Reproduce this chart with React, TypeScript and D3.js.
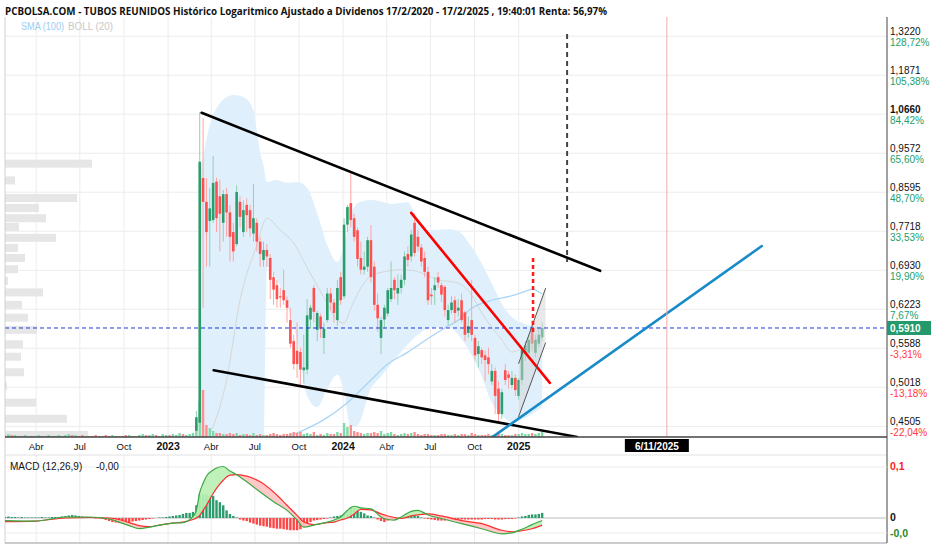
import React from "react";
import * as d3 from "d3";

// ---------- DATA ----------
const candleStart = "2023-02-27"; // weekly candles
const candleOpen = [0.445,0.455,0.894,0.837,0.794,0.796,0.885,0.85,0.79,0.855,0.813,0.77,0.745,0.837,0.77,0.83,0.818,0.767,0.79,0.75,0.713,0.733,0.717,0.68,0.665,0.645,0.656,0.638,0.604,0.57,0.555,0.553,0.526,0.527,0.605,0.66,0.588,0.61,0.575,0.604,0.65,0.634,0.604,0.68,0.645,0.786,0.834,0.8,0.774,0.717,0.694,0.7,0.753,0.7,0.63,0.575,0.605,0.615,0.64,0.675,0.65,0.66,0.675,0.725,0.72,0.79,0.76,0.738,0.717,0.69,0.648,0.656,0.68,0.665,0.662,0.604,0.621,0.638,0.62,0.638,0.617,0.583,0.604,0.575,0.55,0.556,0.548,0.545,0.51,0.525,0.5,0.466,0.526,0.52,0.505,0.515,0.49,0.512,0.55,0.552,0.59,0.552,0.566,0.576];
const candleHigh = [0.47,1.072,1.055,0.894,0.87,0.95,0.895,0.89,0.865,0.87,0.83,0.79,0.876,0.85,0.84,0.845,0.83,0.88,0.8,0.76,0.75,0.745,0.725,0.69,0.675,0.66,0.694,0.645,0.625,0.58,0.6,0.56,0.58,0.64,0.63,0.665,0.62,0.615,0.6,0.66,0.66,0.64,0.675,0.69,0.8,0.83,0.91,0.81,0.78,0.75,0.73,0.76,0.785,0.71,0.65,0.61,0.63,0.66,0.71,0.68,0.685,0.685,0.73,0.74,0.775,0.81,0.775,0.745,0.73,0.7,0.66,0.68,0.69,0.67,0.665,0.63,0.645,0.645,0.64,0.65,0.62,0.61,0.675,0.58,0.57,0.56,0.555,0.56,0.535,0.53,0.51,0.5,0.535,0.525,0.525,0.52,0.515,0.56,0.57,0.58,0.604,0.58,0.59,0.6];
const candleLow = [0.42,0.44,0.625,0.7,0.7,0.79,0.77,0.73,0.75,0.76,0.71,0.71,0.74,0.78,0.76,0.77,0.76,0.75,0.73,0.7,0.7,0.7,0.64,0.63,0.625,0.625,0.63,0.6,0.56,0.527,0.515,0.505,0.507,0.52,0.59,0.6,0.57,0.575,0.55,0.6,0.62,0.6,0.595,0.63,0.64,0.77,0.78,0.75,0.7,0.685,0.685,0.69,0.67,0.62,0.585,0.55,0.59,0.61,0.635,0.64,0.63,0.65,0.665,0.7,0.71,0.72,0.73,0.7,0.68,0.63,0.63,0.63,0.66,0.635,0.61,0.595,0.615,0.6,0.61,0.6,0.57,0.575,0.57,0.54,0.53,0.535,0.51,0.52,0.505,0.466,0.455,0.46,0.505,0.5,0.5,0.49,0.485,0.505,0.54,0.545,0.555,0.545,0.56,0.57];
const candleClose = [0.462,0.935,0.837,0.77,0.822,0.882,0.8,0.81,0.855,0.813,0.76,0.73,0.86,0.803,0.818,0.807,0.778,0.8,0.75,0.725,0.733,0.72,0.675,0.657,0.64,0.643,0.638,0.625,0.566,0.535,0.535,0.527,0.53,0.612,0.625,0.618,0.616,0.59,0.59,0.65,0.634,0.616,0.66,0.638,0.786,0.825,0.796,0.76,0.715,0.694,0.7,0.753,0.68,0.63,0.607,0.604,0.625,0.656,0.66,0.656,0.66,0.675,0.72,0.713,0.765,0.727,0.74,0.71,0.69,0.638,0.645,0.665,0.67,0.648,0.621,0.621,0.634,0.616,0.625,0.604,0.58,0.594,0.58,0.548,0.562,0.545,0.541,0.535,0.525,0.49,0.466,0.495,0.512,0.515,0.515,0.498,0.512,0.556,0.563,0.572,0.566,0.572,0.58,0.591];
const candleVolume = [12,35,47,12,9,6,4,4,3,3,4,3,4,2,3,3,2,4,2,3,2,2,3,4,3,2,3,3,4,5,4,5,3,4,3,5,2,3,2,4,3,3,5,4,14,10,12,6,5,4,3,4,4,5,4,6,3,4,5,3,2,3,4,3,4,5,3,2,3,3,2,2,2,3,3,2,2,3,2,3,3,2,4,3,2,2,2,3,2,3,4,3,2,2,2,3,3,4,3,3,4,3,4,5];

// earlier weeks (price below the visible range): volume and direction only
const weekStart = "2022-01-24";
const preVolume = [2,3,2,2,1,1,2,1,1,1,2,1,1,2,1,1,2,1,2,3,2,2,1,2,1,1,1,2,1,1,2,1,2,1,1,1,2,2,1,1,2,3,2,2,3,2,1,3,2,2,3,2,4,3,2,3,4];
const preVolumeUp = [1,1,0,1,1,0,1,1,0,1,1,0,1,1,0,1,1,1,1,1,0,1,0,0,1,0,0,0,0,0,0,0,1,0,1,0,0,1,0,1,1,1,0,1,1,0,1,1,1,0,1,1,1,0,1,1,1];

// Bollinger (20) read per candle index
const bandIdx = [1,4,7,11,14,17,18,19,20,21,24,27,30,33,36,39,42,44,46,48,52,55,58,63,66,69,75,78,82,85,88,91,94,97,103];
const bandUpper = [0.901,1.034,1.099,1.124,1.118,1.078,1.02,0.96,0.926,0.884,0.889,0.882,0.884,0.87,0.811,0.743,0.709,0.743,0.807,0.834,0.841,0.838,0.832,0.836,0.792,0.774,0.776,0.772,0.739,0.706,0.668,0.632,0.609,0.599,0.592];
const bandLower = [0.4,0.4,0.4,0.4,0.4,0.4,0.4,0.4,0.42,0.7,0.675,0.63,0.57,0.49,0.475,0.5,0.52,0.494,0.45,0.452,0.5,0.517,0.535,0.565,0.58,0.59,0.593,0.58,0.548,0.517,0.481,0.465,0.455,0.459,0.475];
const midIdx = [4,9,13,18,21,25,29,33,38,42,44,46,49,52,55,61,65,72,78,82,85,91,94,99,103];
const bandMid = [0.44,0.512,0.638,0.743,0.8,0.774,0.747,0.698,0.643,0.604,0.599,0.624,0.66,0.683,0.689,0.694,0.692,0.675,0.669,0.647,0.616,0.572,0.553,0.566,0.576];
// SMA (100)
const smaIdx = [24,27,31,38,45,52,57,63,69,74,78,82,88,94,99,100,103];
const sma100 = [0.42,0.437,0.444,0.459,0.481,0.512,0.535,0.553,0.574,0.591,0.604,0.624,0.638,0.646,0.656,0.658,0.649];

// Volume profile
const vpPrice = [0.93,0.888,0.846,0.823,0.8,0.781,0.758,0.737,0.717,0.695,0.673,0.652,0.63,0.608,0.588,0.565,0.546,0.523,0.503,0.481,0.46,0.44];
const vpVolume = [87,10,72,34,41,14,51,13,20,13,3,38,17,23,32,18,16,19,2,31,62,83];

// MACD (12,26,9), week index from weekStart, values in thousandths
const macdIdx = [0,9,18,25,31,34,37,40,43,46,50,53,56,57,58,59,60,62,63,65,67,69,72,76,80,84,87,89,92,94,96,98,100,102,104,106,109,112,114,116,118,121,123,126,130,136,142,148,151,154,157,160];
const macdLine = [-5,-6,2,2,-2,-8,-15,-21,-18,-14,-10,-9,3,15,50,68,82,94,98,101,92,85,71,51,32,15,-4,-18,-14,-11,-8,-4,2,15,23,20,18,2,-3,-4,2,13,15,6,-1,-11,-21,-31,-29,-22,-13,-5];
const signalLine = [-7,-6,0,1,0,-3,-9,-15,-17,-14,-10,-8,-3,0,5,15,25,48,58,74,84,85,82,71,51,25,5,-8,-13,-11,-9,-8,-4,0,8,17,16,8,4,1,-1,4,6,8,4,-5,-11,-24,-27,-25,-21,-14];
const macdHist = [2,3,2,2,1,2,1,1,1,1,1,2,1,1,2,2,1,3,4,5,6,5,4,3,2,1,0,-1,-1,-2,-4,-6,-8,-9,-10,-10,-9,-8,-7,-6,-5,-4,-3,-2,-1,0,1,1,2,3,4,5,6,8,10,10,12,25,46,46,46,44,43,35,31,25,15,8,4,1,-3,-5,-6,-9,-11,-13,-15,-16,-17,-19,-20,-21,-21,-22,-23,-24,-24,-24,-22,-17,-11,-8,-5,-4,-3,-2,-1,1,3,4,5,8,15,21,20,17,12,9,5,4,1,-3,-6,-8,-5,-3,-1,0,1,4,5,6,5,4,1,-1,-2,-3,-4,-5,-5,-5,-4,-4,-3,-3,-3,-3,-3,-3,-3,-3,-3,-2,-2,-2,-3,-3,-3,-2,-2,-2,-1,1,3,4,6,7,7,8,10];

// Axis ticks
const priceTicks = [1.322,1.1871,1.066,0.9572,0.8595,0.7718,0.693,0.6223,0.5588,0.5018,0.4505];
const pctLabels = ["128,72%","105,38%","84,42%","65,60%","48,70%","33,53%","19,90%","7,67%","-3,31%","-13,18%","-22,04%"];
const boldTick = 1.066;
const lastPrice = 0.591;
const monthTicks = ["2022-04-01","2022-07-01","2022-10-01","2023-01-01","2023-04-01","2023-07-01","2023-10-01","2024-01-01","2024-04-01","2024-07-01","2024-10-01","2025-01-01"];
const monthLabels = ["Abr","Jul","Oct","2023","Abr","Jul","Oct","2024","Abr","Jul","Oct","2025"];

// Drawn trend lines (start date, start price, end date, end price)
const trendStart = ["2023-03-12","2023-04-06","2024-05-22","2024-11-08","2025-01-01","2025-01-01"];
const trendStartPrice = [1.07,0.526,0.812,0.4376,0.536,0.463];
const trendEnd = ["2025-06-20","2025-05-03","2025-03-07","2026-05-23","2025-02-26","2025-02-26"];
const trendEndPrice = [0.692,0.4376,0.508,0.741,0.659,0.567];
const markerDate = "2025-11-06";
const markerLabel = "6/11/2025";
const dashedBlackDate = "2025-04-12";
const dashedBlackPrices = [1.33,0.709];
const dashedRedDate = "2025-01-31";
const dashedRedPrices = [0.717,0.58];

// ---------- STYLE ----------
const L = 5, R = 887, T = 17, B = 437;
const MT = 455, MB = 543;
const GREEN = "#2b9c6c", RED = "#ff4f4f";
const trendColors = ["#000","#000","#ff0000","#1a8bc9","#555","#555"];
const trendWidths = [2.6,2.6,2.6,2.6,1,1];
const AX = "'Liberation Sans Narrow','Liberation Sans',Arial,sans-serif";
const SANS = "'Liberation Sans',Arial,sans-serif";

const parse = (s: string) => d3.timeParse("%Y-%m-%d")(s) as Date;

export default function App() {
  const x = d3.scaleTime().domain([parse("2022-01-26"), parse("2027-02-08")]).range([L, R]);
  const y = d3.scaleLog().domain([0.4375, 1.3938]).range([B, T]);
  const ym = d3.scaleLinear().domain([0, 0.1]).range([518, 467]);
  const vScale = d3.scaleLinear().domain([0, d3.max(candleVolume) as number]).range([0, 47]);
  const vpScale = d3.scaleLinear().domain([0, d3.max(vpVolume) as number]).range([0, 87]);

  const cx = (i: number) => x(d3.timeDay.offset(parse(candleStart), 7 * i + 2));
  const wx = (w: number) => x(d3.timeDay.offset(parse(weekStart), 7 * w + 2));

  const bandArea = d3.area<number>()
    .x((_, k) => cx(bandIdx[k]))
    .y0((_, k) => y(bandLower[k]))
    .y1((_, k) => y(bandUpper[k]))
    .curve(d3.curveMonotoneX)(bandIdx);
  const midPath = d3.line<number>().x((_, k) => cx(midIdx[k])).y((v) => y(v)).curve(d3.curveMonotoneX)(bandMid);
  const smaPath = d3.line<number>().x((_, k) => cx(smaIdx[k])).y((v) => y(v)).curve(d3.curveMonotoneX)(sma100);

  const mx = (k: number) => wx(macdIdx[k]);
  const macdY = (v: number) => ym(v / 1000);
  const macdPath = d3.line<number>().x((_, k) => mx(k)).y(macdY).curve(d3.curveMonotoneX)(macdLine);
  const sigPath = d3.line<number>().x((_, k) => mx(k)).y(macdY).curve(d3.curveMonotoneX)(signalLine);
  const areaTo = (arr: number[], edge: number) =>
    d3.area<number>().x((_, k) => mx(k)).y0(edge).y1(macdY).curve(d3.curveMonotoneX)(arr) as string;

  const pctColor = (s: string) => (s.startsWith("-") ? "#ff3b3b" : "#22a06b");
  const fmt = (p: number) => p.toFixed(4).replace(".", ",");

  return (
    <svg width={935} height={548} style={{ position: "absolute", left: 0, top: 0, background: "#fff" }}
      fontFamily={AX}>
      <defs>
        <clipPath id="mainClip"><rect x={L} y={T} width={R - L} height={B - T} /></clipPath>
        <clipPath id="macdClip"><rect x={L} y={MT} width={R - L} height={MB - MT} /></clipPath>
        <clipPath id="belowMacd"><path d={areaTo(macdLine, MB)} /></clipPath>
        <clipPath id="belowSig"><path d={areaTo(signalLine, MB)} /></clipPath>
      </defs>
      <rect x={0} y={0} width={935} height={548} fill="#fff" />

      {/* title */}
      <text x={5} y={15} fontFamily="'Open Sans','Noto Sans',sans-serif" fontWeight="bold" fontSize={11}
        fill="#111" textLength={602} lengthAdjust="spacingAndGlyphs">
        PCBOLSA.COM - TUBOS REUNIDOS Histórico Logaritmico Ajustado a Dividenos 17/2/2020 - 17/2/2025 , 19:40:01 Renta: 56,97%
      </text>

      {/* grid */}
      {priceTicks.map((t) => (
        <line key={"hg" + t} x1={L} x2={R} y1={y(t)} y2={y(t)} stroke="#ececec" strokeWidth={1} />
      ))}
      {monthTicks.map((d) => (
        <g key={"vg" + d}>
          <line x1={x(parse(d))} x2={x(parse(d))} y1={T} y2={B} stroke="#ececec" />
          <line x1={x(parse(d))} x2={x(parse(d))} y1={MT} y2={MB} stroke="#ececec" />
        </g>
      ))}

      <g clipPath="url(#mainClip)">
        {/* volume profile */}
        {vpPrice.map((p, k) => (
          <rect key={"vp" + k} x={L} y={y(p) - 4} width={vpScale(vpVolume[k])} height={8} fill="#e6e6e6" />
        ))}
        {/* bollinger */}
        <path d={bandArea as string} fill="#dff0fc" />
        <path d={midPath as string} fill="none" stroke="#d6d6d6" strokeWidth={1} />
        <path d={smaPath as string} fill="none" stroke="#a9d5f5" strokeWidth={1.3} />

        {/* volume bars */}
        {preVolume.map((v, w) => (
          <rect key={"pv" + w} x={wx(w) - 1.2} y={B - vScale(v)} width={2.4} height={vScale(v)}
            fill={preVolumeUp[w] ? "#7fdcaa" : "#ff8f8f"} />
        ))}
        {candleVolume.map((v, i) => (
          <rect key={"cv" + i} x={cx(i) - 1.2} y={B - vScale(v)} width={2.4} height={vScale(v)}
            fill={candleClose[i] >= candleOpen[i] ? "#7fdcaa" : "#ff8f8f"} />
        ))}

        {/* candles */}
        {candleOpen.map((o, i) => {
          const c = candleClose[i];
          const up = c >= o;
          const xx = cx(i);
          const top = y(Math.max(o, c));
          const bot = y(Math.min(o, c));
          return (
            <g key={"c" + i}>
              <line x1={xx} x2={xx} y1={y(candleHigh[i])} y2={y(candleLow[i])}
                stroke={up ? "#8fd0b3" : "#ffa3a3"} strokeWidth={1} />
              <rect x={xx - 1.3} y={top} width={2.6} height={Math.max(1, bot - top)} fill={up ? GREEN : RED} />
            </g>
          );
        })}

        {/* gray channel */}
        <path d={`M${x(parse(trendStart[4]))},${y(trendStartPrice[4])}L${x(parse(trendEnd[4]))},${y(trendEndPrice[4])}L${x(parse(trendEnd[5]))},${y(trendEndPrice[5])}L${x(parse(trendStart[5]))},${y(trendStartPrice[5])}Z`}
          fill="#d4d4d4" opacity={0.5} />

        {/* last price line */}
        <line x1={L} x2={R} y1={y(lastPrice)} y2={y(lastPrice)} stroke="#1f35e0" strokeWidth={1} strokeDasharray="4,3" />

        {/* trend lines */}
        {trendStart.map((s, k) => (
          <line key={"tl" + k} x1={x(parse(s))} y1={y(trendStartPrice[k])} x2={x(parse(trendEnd[k]))} y2={y(trendEndPrice[k])}
            stroke={trendColors[k]} strokeWidth={trendWidths[k]} strokeLinecap="round" />
        ))}

        {/* verticals */}
        <line x1={x(parse(markerDate))} x2={x(parse(markerDate))} y1={T} y2={B} stroke="#f5a9a9" strokeWidth={1} />
        <line x1={x(parse(dashedBlackDate))} x2={x(parse(dashedBlackDate))} y1={y(dashedBlackPrices[0])} y2={y(dashedBlackPrices[1])}
          stroke="#444" strokeWidth={2} strokeDasharray="5,4" />
        <line x1={x(parse(dashedRedDate))} x2={x(parse(dashedRedDate))} y1={y(dashedRedPrices[0])} y2={y(dashedRedPrices[1])}
          stroke="#ff1a1a" strokeWidth={2.5} strokeDasharray="4,3" />
      </g>

      {/* legend */}
      <text x={21} y={30} fontSize={10} fill="#9ccdf2" fontFamily={SANS} textLength={43} lengthAdjust="spacingAndGlyphs">SMA (100)</text>
      <text x={68} y={30} fontSize={10} fill="#c8c8c8" fontFamily={SANS} textLength={45} lengthAdjust="spacingAndGlyphs">BOLL (20)</text>

      {/* frame */}
      <line x1={L} x2={L} y1={T} y2={MB} stroke="#d0d0d0" />
      <line x1={L} x2={R} y1={B} y2={B} stroke="#444" strokeWidth={1.5} />
      <line x1={L} x2={R} y1={MT} y2={MT} stroke="#e2e2e2" />
      <line x1={L} x2={R} y1={MB} y2={MB} stroke="#999" strokeWidth={1.2} />
      <line x1={R} x2={R} y1={T} y2={MB} stroke="#444" strokeWidth={1} />

      {/* right price axis */}
      {priceTicks.map((t, k) => (
        <g key={"pt" + t}>
          <text x={890} y={y(t) - 1} fontSize={10} fill="#111" fontWeight={t === boldTick ? "bold" : "normal"}
            fontFamily={SANS}>{fmt(t)}</text>
          <text x={890} y={y(t) + 9.5} fontSize={10} fill={pctColor(pctLabels[k])} fontFamily={SANS}>{pctLabels[k]}</text>
        </g>
      ))}
      <rect x={887} y={y(lastPrice) - 7} width={44} height={14} fill="#24996a" />
      <text x={890} y={y(lastPrice) + 4} fontSize={10} fill="#fff" fontWeight="bold" fontFamily={SANS}>{fmt(lastPrice)}</text>

      {/* x labels */}
      {monthTicks.map((d, k) => (
        <text key={"xl" + d} x={x(parse(d))} y={450} textAnchor="middle" fontSize={k % 4 === 3 ? 10.5 : 9.5}
          fontWeight={k % 4 === 3 ? "bold" : "normal"} fill="#111">{monthLabels[k]}</text>
      ))}
      <rect x={x(parse(markerDate)) - 42} y={439} width={64} height={13} fill="#000" />
      <text x={x(parse(markerDate)) - 10} y={449.5} textAnchor="middle" fontSize={10} fontWeight="bold" fill="#fff">{markerLabel}</text>

      {/* MACD panel */}
      <line x1={L} x2={R} y1={ym(0.1)} y2={ym(0.1)} stroke="#ececec" />
      <line x1={L} x2={R} y1={ym(-0.0294)} y2={ym(-0.0294)} stroke="#ececec" />
      <line x1={L} x2={R} y1={ym(0)} y2={ym(0)} stroke="#bbb" />
      <g clipPath="url(#macdClip)">
        {macdHist.map((v, w) => (
          <rect key={"h" + w} x={wx(w) - 1.2} width={2.4}
            y={v >= 0 ? ym(v / 1000) : ym(0)} height={Math.abs(ym(v / 1000) - ym(0))}
            fill={v >= 0 ? GREEN : "#ff4646"} />
        ))}
        <g clipPath="url(#belowMacd)">
          <path d={areaTo(signalLine, MT)} fill="#b9f0b3" opacity={0.9} />
        </g>
        <g clipPath="url(#belowSig)">
          <path d={areaTo(macdLine, MT)} fill="#ffc2c2" opacity={0.9} />
        </g>
        <path d={sigPath as string} fill="none" stroke="#ff2e2e" strokeWidth={1.2} />
        <path d={macdPath as string} fill="none" stroke="#3aa845" strokeWidth={1.2} />
      </g>
      <text x={10} y={470} fontSize={10} fill="#111">MACD (12,26,9)</text>
      <text x={96} y={470} fontSize={10} fill="#111">-0,00</text>
      <text x={890} y={470} fontSize={10.5} fill="#ff2020" fontWeight="bold">0,1</text>
      <text x={890} y={521} fontSize={10.5} fill="#111" fontWeight="bold">0</text>
      <text x={890} y={537} fontSize={10.5} fill="#2a8a2a" fontWeight="bold">-0,0</text>
    </svg>
  );
}
